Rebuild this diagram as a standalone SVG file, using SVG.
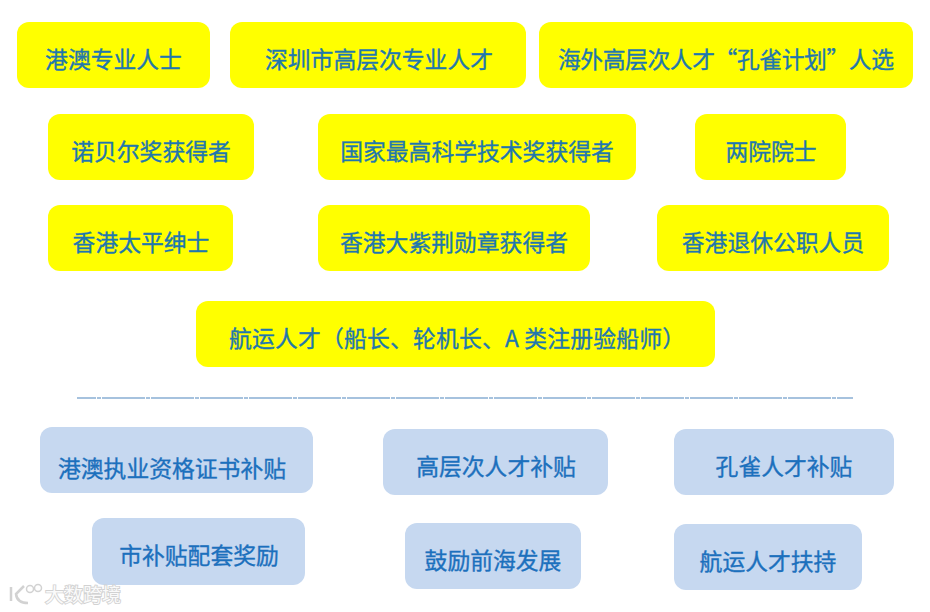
<svg xmlns="http://www.w3.org/2000/svg" width="930" height="612" viewBox="0 0 930 612">
<style>
.y{fill:#ffff00}
.b{fill:#c6d8f0}
text{font-family:"Noto Sans CJK SC","Noto Sans",sans-serif;font-size:22.8px;text-anchor:middle;stroke-width:.35px}
.ty{fill:#1f77ae;stroke:#1f77ae}
.tb{fill:#1c70bd;stroke:#1c70bd}
.wm{font-size:19px;fill:#fafafa;stroke:#d2d2d2;stroke-width:1.800px;paint-order:stroke;text-anchor:start}
</style>
<rect width="930" height="612" fill="#ffffff"/>
<g id="n1"><rect class="y" x="17" y="22" width="193" height="66" rx="12"/><text class="ty" x="113.500" y="68">港澳专业人士</text></g>
<g id="n2"><rect class="y" x="230" y="22" width="296" height="66" rx="12"/><text class="ty" x="379" y="68">深圳市高层次专业人才</text></g>
<g id="n3"><rect class="y" x="539" y="22" width="374" height="66" rx="12"/><text class="ty" x="726" y="68" textLength="336" lengthAdjust="spacing">海外高层次人才“孔雀计划”人选</text></g>
<g id="n4"><rect class="y" x="48" y="114" width="206" height="66" rx="12"/><text class="ty" x="151" y="160">诺贝尔奖获得者</text></g>
<g id="n5"><rect class="y" x="318" y="114" width="318" height="66" rx="12"/><text class="ty" x="477" y="160">国家最高科学技术奖获得者</text></g>
<g id="n6"><rect class="y" x="695" y="114" width="151" height="66" rx="12"/><text class="ty" x="771" y="160">两院院士</text></g>
<g id="n7"><rect class="y" x="48" y="205" width="185" height="66" rx="12"/><text class="ty" x="141" y="251">香港太平绅士</text></g>
<g id="n8"><rect class="y" x="318" y="205" width="272" height="66" rx="12"/><text class="ty" x="454" y="251">香港大紫荆勋章获得者</text></g>
<g id="n9"><rect class="y" x="657" y="205" width="232" height="66" rx="12"/><text class="ty" x="773" y="251">香港退休公职人员</text></g>
<g id="n10"><rect class="y" x="196" y="301" width="519" height="66" rx="12"/><text class="ty" x="457" y="347" textLength="456" lengthAdjust="spacing">航运人才（船长、轮机长、A 类注册验船师）</text></g>
<g id="connectors"><line x1="77" y1="398" x2="853" y2="398" stroke="#4f86bd" stroke-width="1.200" stroke-dasharray="43 1 4 1" stroke-dashoffset="24"/></g>
<g id="n11"><rect class="b" x="40" y="427" width="273" height="66" rx="12"/><text class="tb" x="172" y="477">港澳执业资格证书补贴</text></g>
<g id="n12"><rect class="b" x="383" y="429" width="225" height="66" rx="12"/><text class="tb" x="496" y="475">高层次人才补贴</text></g>
<g id="n13"><rect class="b" x="674" y="429" width="220" height="66" rx="12"/><text class="tb" x="784" y="475">孔雀人才补贴</text></g>
<g id="n14"><rect class="b" x="92" y="518" width="213" height="67" rx="12"/><text class="tb" x="199" y="564">市补贴配套奖励</text></g>
<g id="n15"><rect class="b" x="405" y="523" width="176" height="66" rx="12"/><text class="tb" x="493" y="569">鼓励前海发展</text></g>
<g id="n16"><rect class="b" x="674" y="524" width="188" height="66" rx="12"/><text class="tb" x="768" y="570">航运人才扶持</text></g>
<g id="watermark" fill="none" stroke="#d2d2d2" stroke-width="2.500">
<path d="M11 587v14M24 586l-8 8q1 9 12 9"/><circle cx="30" cy="589" r="3.500" stroke-width="1.500"/><circle cx="38" cy="588" r="3.500" stroke-width="1.500"/>
<text class="wm" x="45" y="602">大数跨境</text>
</g>
</svg>
